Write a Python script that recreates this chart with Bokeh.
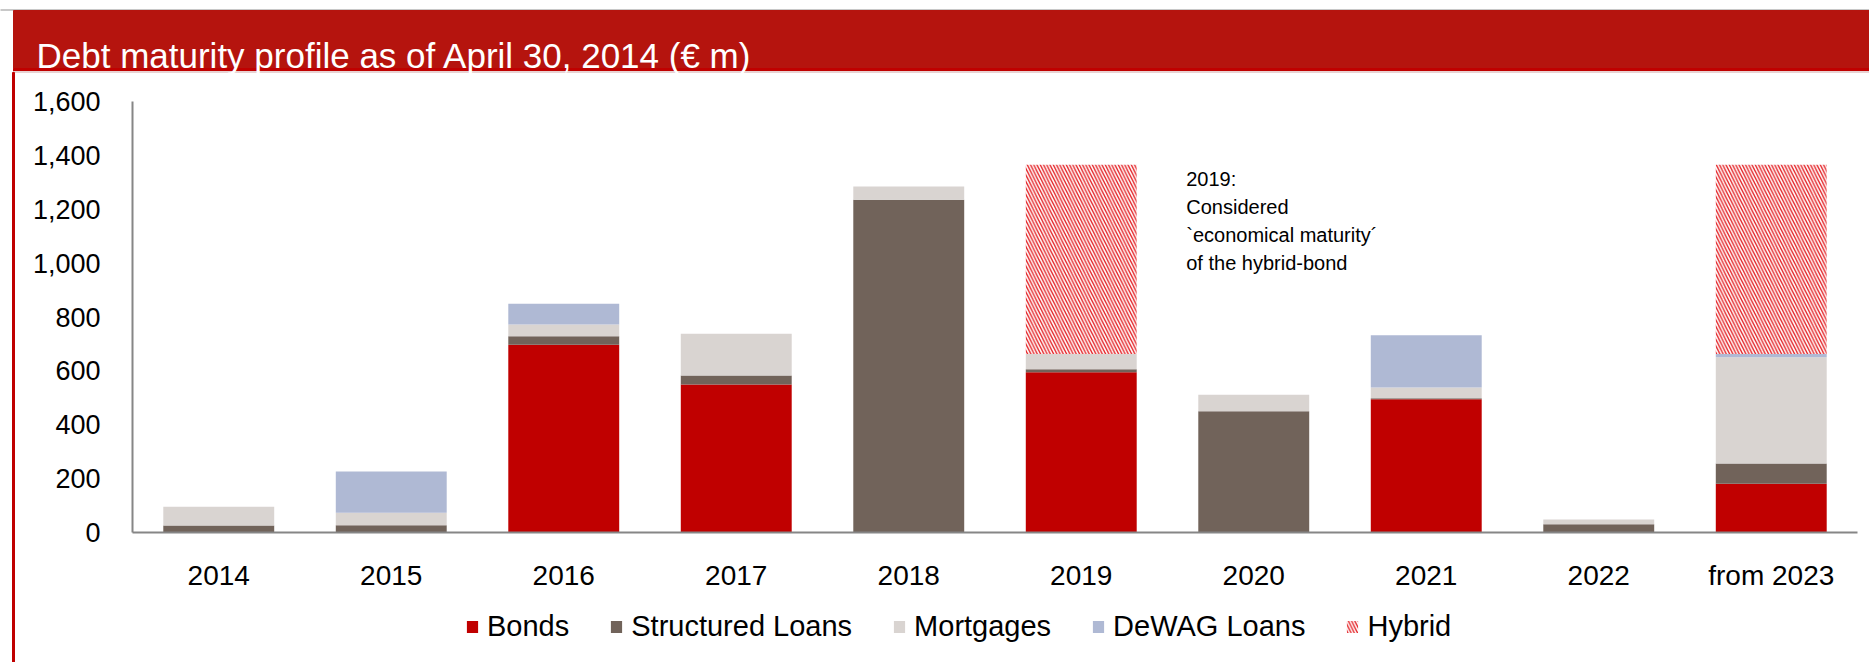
from bokeh.plotting import figure
from bokeh.models import (ColumnDataSource, Range1d, FixedTicker, LinearAxis,
                          NumeralTickFormatter, Legend, LegendItem)
from bokeh.core.properties import value
from bokeh.embed import file_html
from bokeh.resources import INLINE

# ---------------- data ----------------
categories = ["2014", "2015", "2016", "2017", "2018", "2019", "2020", "2021", "2022", "from 2023"]
bonds      = [0,   0,   697, 549, 0,    595, 0,   495, 0,  181]
structured = [26,  27,  32,  34,  1235, 11,  450, 3,   31, 75]
mortgages  = [70,  46,  43,  155, 49,   57,  61,  40,  17, 395]
dewag      = [0,   153, 77,  0,   0,    0,   0,   194, 0,  12]
hybrid     = [0,   0,   0,   0,   0,    702, 0,   0,   0,  702]
series_names = ["Bonds", "Structured Loans", "Mortgages", "DeWAG Loans", "Hybrid"]
y_ticks = [0, 200, 400, 600, 800, 1000, 1200, 1400, 1600]
title_text = "Debt maturity profile as of April 30, 2014 (\u20ac m)"
note_lines = ["2019:", "Considered", "`economical maturity\u00b4", "of the hybrid-bond"]
note_category = "2019"

# ---------------- styles / layout ----------------
FONT = "Liberation Sans"
colors = ["#C00000", "#71635A", "#D9D4D1", "#AFB9D4", "white"]
hatches = [" ", " ", " ", " ", "\\"]
HEADER_RED = "#B5140E"
DARK_RED = "#C00000"
AXIS_GREY = "#868686"

W, H = 1869, 662            # canvas (placed at the page's top-left corner)
OFF = 0
AXIS_X, BASE_Y, TOP_Y = 132, 532, 101      # page pixel positions of axis / 0 / 1600
CAT_PX = 172.5                             # pixels per category
Y_MAX = 1600
PX_Y = (BASE_Y - TOP_Y) / Y_MAX

x_start = -(AXIS_X - OFF) / CAT_PX
x_end = x_start + W / CAT_PX
y_end = Y_MAX + (TOP_Y - OFF) / PX_Y
y_start = y_end - H / PX_Y

def hx(px):  # page pixel -> data x (for decorations)
    return x_start + (px - OFF) / CAT_PX

def hy(py):  # page pixel -> data y (for decorations)
    return y_end - (py - OFF) / PX_Y

centers = [i + 0.5 for i in range(len(categories))]

source = ColumnDataSource(dict(x=centers, Bonds=bonds, SL=structured,
                               Mort=mortgages, DeWAG=dewag, Hybrid=hybrid))
stackers = ["Bonds", "SL", "Mort", "DeWAG", "Hybrid"]

p = figure(width=W, height=H, x_range=Range1d(x_start, x_end), y_range=Range1d(y_start, y_end),
           x_axis_type=None, y_axis_type=None, title=None, min_border=0,
           output_backend="svg", toolbar_location=None)
p.outline_line_color = None
p.background_fill_color = "white"
p.border_fill_color = "white"

# ---------------- header decorations ----------------
p.quad(left=[hx(0)], right=[hx(1869)], top=[hy(9)], bottom=[hy(10)], color="#C8C8C8")
p.quad(left=[hx(13)], right=[hx(1869)], top=[hy(10)], bottom=[hy(68)], color=HEADER_RED)
p.quad(left=[hx(13)], right=[hx(1869)], top=[hy(68)], bottom=[hy(71)], color=DARK_RED)
p.quad(left=[hx(13)], right=[hx(1869)], top=[hy(71)], bottom=[hy(72)], color="#E8D2D2")
p.quad(left=[hx(12)], right=[hx(14)], top=[hy(72)], bottom=[hy(662)], color=DARK_RED)
p.text(x=[hx(36)], y=[hy(55)], text=[title_text], text_color="white",
       text_font=value(FONT), text_font_size="35px", text_baseline="alphabetic")

# ---------------- bars ----------------
renderers = p.vbar_stack(stackers, x="x", width=0.643, source=source,
                         fill_color=colors, line_color=None,
                         hatch_pattern=hatches, hatch_color="#E4262A",
                         hatch_weight=1.4, hatch_scale=6.5)

# ---------------- axes ----------------
xaxis = LinearAxis(fixed_location=0, bounds=(0, len(categories)),
                   ticker=FixedTicker(ticks=centers),
                   major_label_overrides={c: lab for c, lab in zip(centers, categories)})
yaxis = LinearAxis(fixed_location=0, bounds=(0, Y_MAX),
                   ticker=FixedTicker(ticks=y_ticks),
                   formatter=NumeralTickFormatter(format="0,0"))
for ax in (xaxis, yaxis):
    ax.axis_line_color = AXIS_GREY
    ax.axis_line_width = 2
    ax.major_tick_line_color = None
    ax.minor_tick_line_color = None
    ax.major_label_text_font = FONT
    ax.major_label_text_color = "black"
xaxis.major_label_text_font_size = "28px"
xaxis.major_label_standoff = 21
yaxis.major_label_text_font_size = "27px"
yaxis.major_label_standoff = 26
p.add_layout(xaxis, "below")
p.add_layout(yaxis, "left")

# ---------------- annotation ----------------
note_x = centers[categories.index(note_category)]
p.text(x=[note_x] * len(note_lines), y=[1314] * len(note_lines),
       text=note_lines, x_offset=105, y_offset=[0, 28, 56, 84],
       text_font=value(FONT), text_font_size="20px", text_color="black",
       text_baseline="alphabetic", text_align="left")

# ---------------- legend ----------------
legend = Legend(items=[LegendItem(label=n, renderers=[r]) for n, r in zip(series_names, renderers)],
                orientation="horizontal", location=(465, 19),
                label_text_font=FONT, label_text_font_size="29px", label_text_color="black",
                glyph_width=14, glyph_height=15, label_standoff=8, spacing=40,
                padding=0, margin=0, border_line_color=None,
                background_fill_alpha=0)
p.add_layout(legend)

open("out.html", "w").write(file_html(p, INLINE))
